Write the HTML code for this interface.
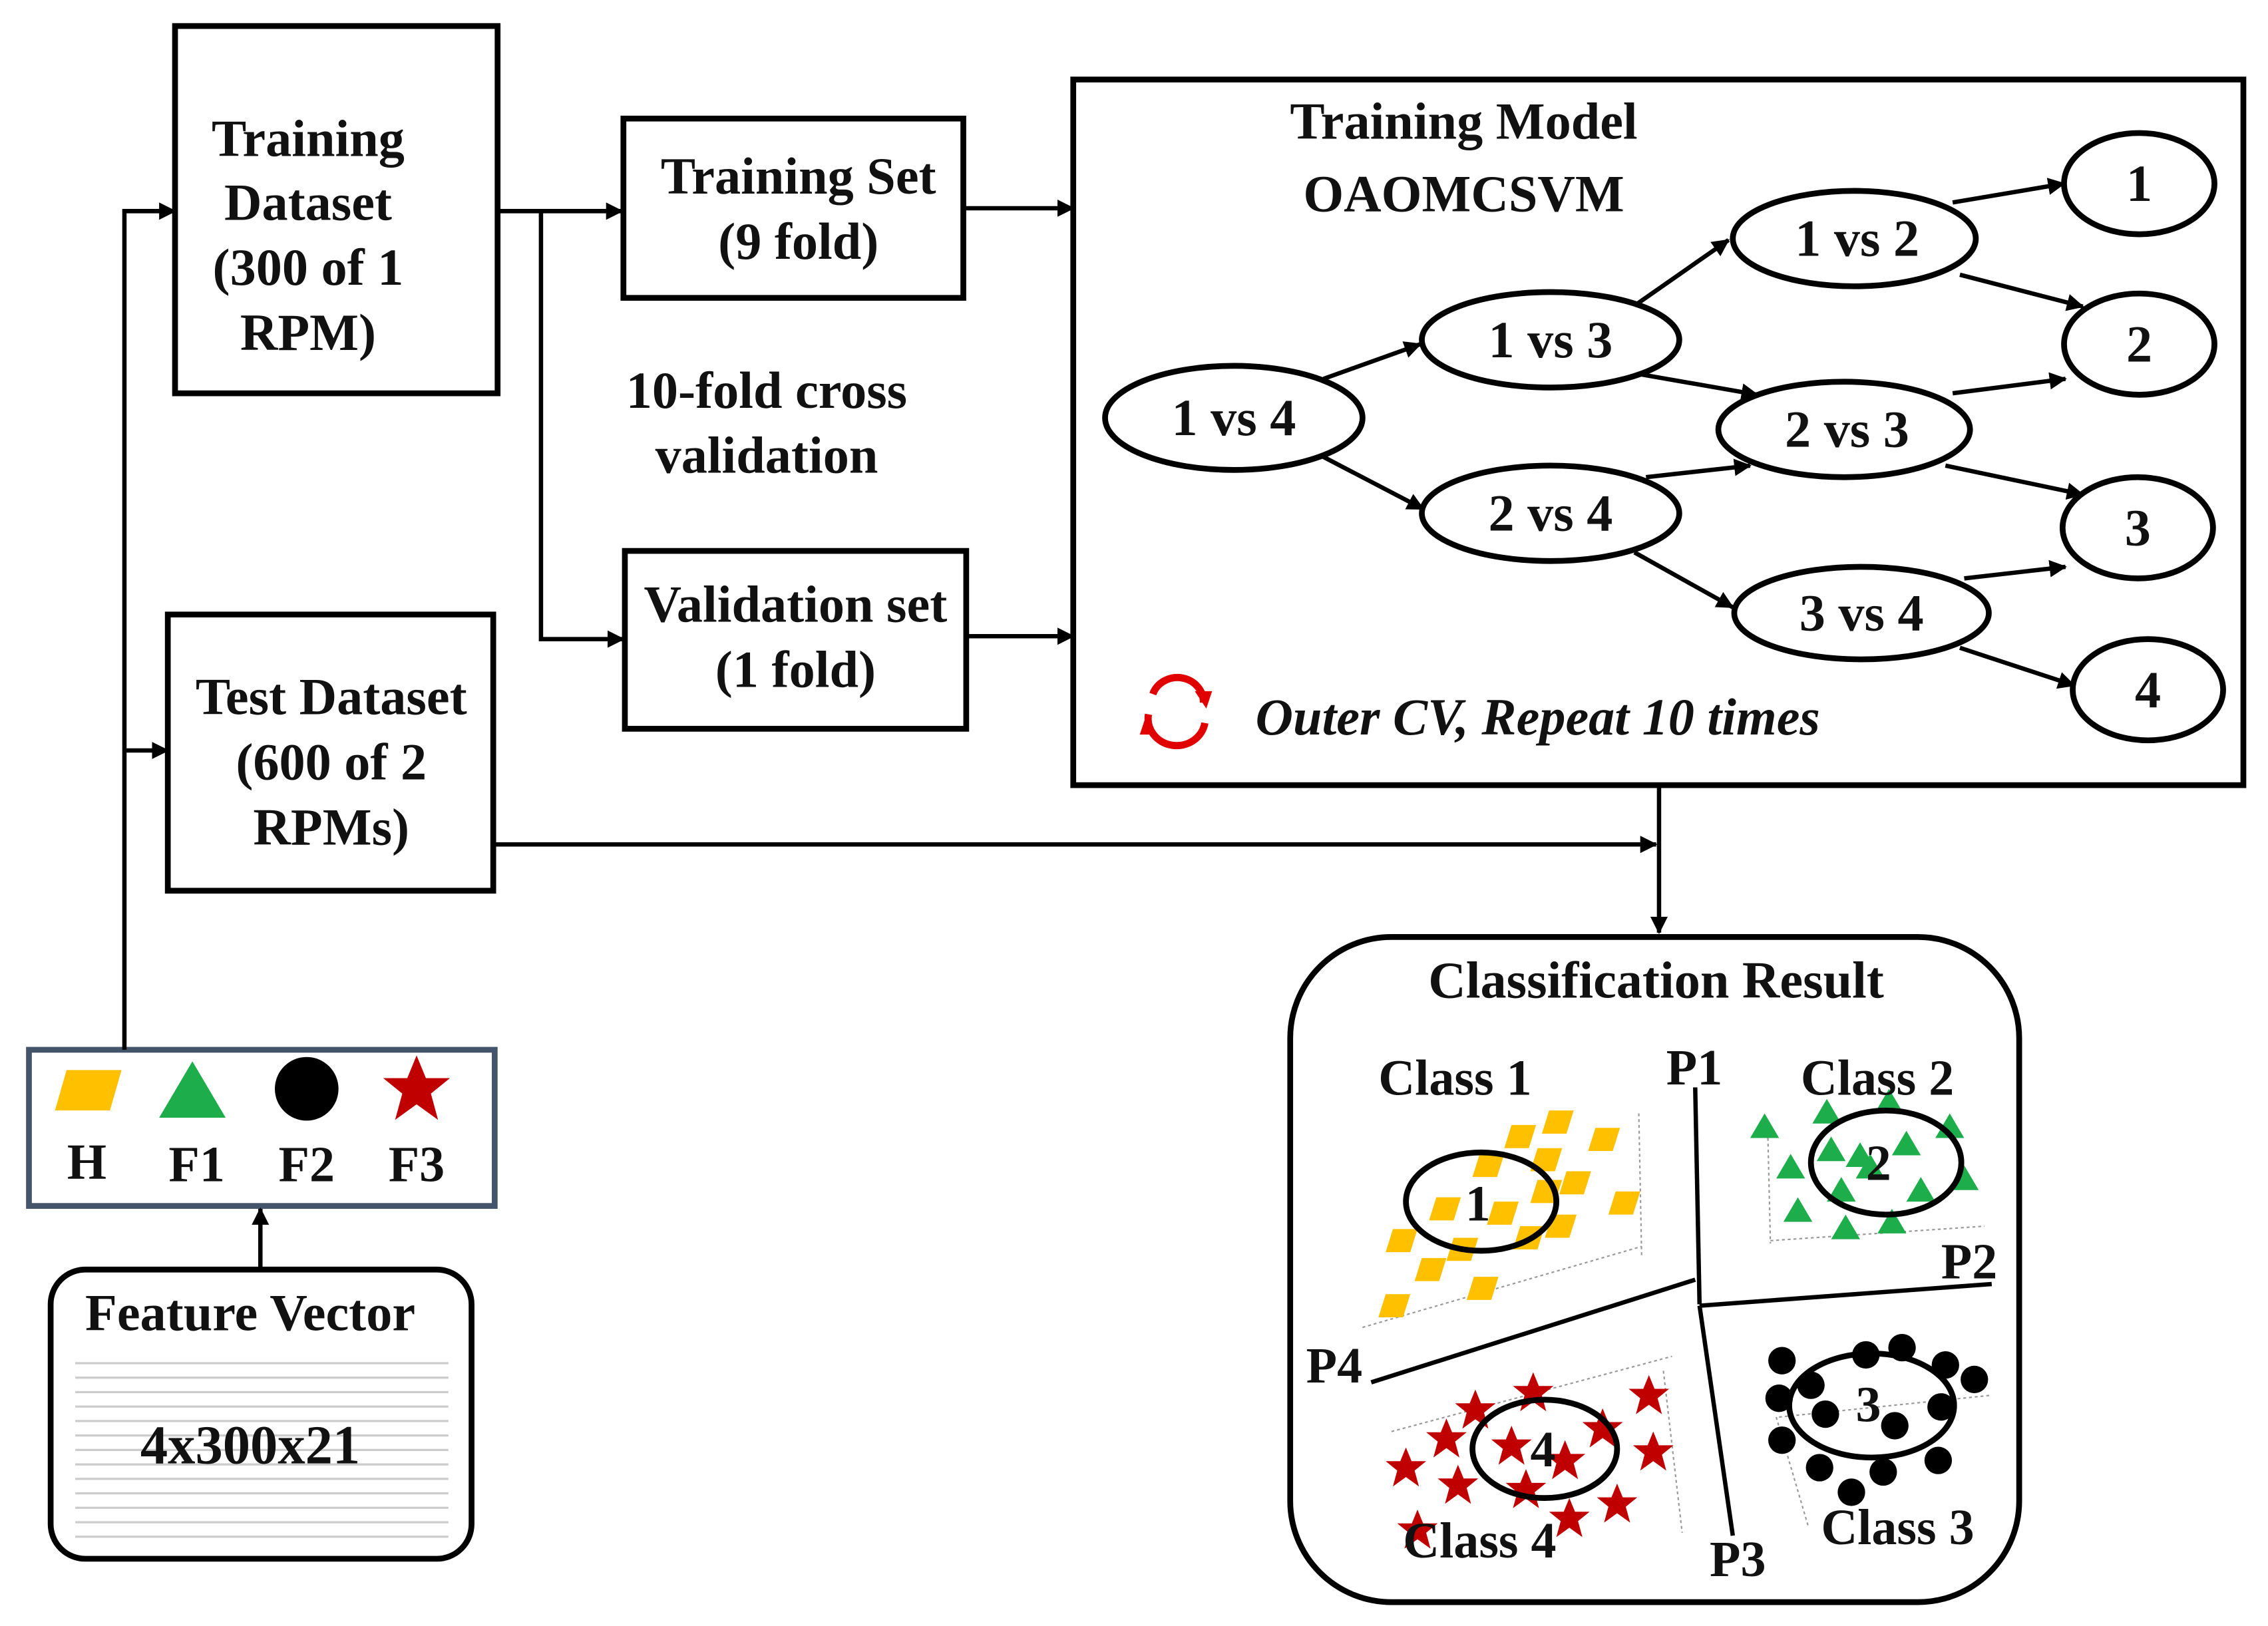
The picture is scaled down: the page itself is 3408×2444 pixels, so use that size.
<!DOCTYPE html>
<html><head><meta charset="utf-8"><style>
html,body{margin:0;padding:0;background:#fff;}
svg{display:block;}
text{font-family:"Liberation Serif",serif;font-weight:bold;fill:#111;}
</style></head><body>
<svg width="3408" height="2444" viewBox="0 0 1568 1124.5" xmlns="http://www.w3.org/2000/svg">
<defs>
<marker id="ar" markerWidth="12" markerHeight="12" refX="11" refY="6" orient="auto" markerUnits="userSpaceOnUse"><path d="M0,0 L12,6 L0,12 z" fill="#000"/></marker>
<path id="par" d="M5,0 L22,0 L17,16 L0,16 z" fill="#FFC000"/>
<path id="tri" d="M0,17 L10,0 L20,17 z" fill="#1DAE4B"/>
<path id="st" d="M0,-14 L3.9,-4.5 L14,-4.5 L6,2 L9,13 L0,6.5 L-9,13 L-6,2 L-14,-4.5 L-3.9,-4.5 z" fill="#C00000"/>
</defs>
<g fill="none" stroke="#000" stroke-width="4">
<rect x="121" y="18" width="223" height="254"/>
<rect x="116" y="425" width="225" height="191"/>
<rect x="431" y="82" width="235" height="124"/>
<rect x="432" y="381" width="236" height="123"/>
<rect x="742" y="55" width="809" height="488"/>
<rect x="35" y="878" width="291" height="200" rx="24"/>
<rect x="892" y="648" width="504" height="460" rx="70"/>
</g>
<rect x="20" y="726" width="322" height="108" fill="none" stroke="#44546A" stroke-width="4"/>
<g stroke="#000" stroke-width="3" fill="none">
<line x1="344" y1="146" x2="430" y2="146" marker-end="url(#ar)"/>
<polyline points="374,146 374,442 431,442" marker-end="url(#ar)"/>
<line x1="666" y1="144" x2="742" y2="144" marker-end="url(#ar)"/>
<line x1="668" y1="440" x2="742" y2="440" marker-end="url(#ar)"/>
<polyline points="86,726 86,146 121,146" marker-end="url(#ar)"/>
<line x1="86" y1="519" x2="116" y2="519" marker-end="url(#ar)"/>
<polyline points="341,584 1145,584" marker-end="url(#ar)"/>
<line x1="1147" y1="543" x2="1147" y2="645" marker-end="url(#ar)"/>
<line x1="180" y1="878" x2="180" y2="836" marker-end="url(#ar)"/>
<line x1="915" y1="262" x2="982" y2="238" marker-end="url(#ar)"/>
<line x1="915" y1="316" x2="984" y2="352" marker-end="url(#ar)"/>
<line x1="1132" y1="210" x2="1195" y2="166" marker-end="url(#ar)"/>
<line x1="1135" y1="259" x2="1215" y2="273" marker-end="url(#ar)"/>
<line x1="1138" y1="330" x2="1210" y2="322" marker-end="url(#ar)"/>
<line x1="1130" y1="382" x2="1198" y2="420" marker-end="url(#ar)"/>
<line x1="1350" y1="140" x2="1427" y2="127" marker-end="url(#ar)"/>
<line x1="1355" y1="190" x2="1440" y2="212" marker-end="url(#ar)"/>
<line x1="1350" y1="272" x2="1428" y2="262" marker-end="url(#ar)"/>
<line x1="1345" y1="322" x2="1440" y2="342" marker-end="url(#ar)"/>
<line x1="1358" y1="400" x2="1428" y2="392" marker-end="url(#ar)"/>
<line x1="1355" y1="448" x2="1434" y2="474" marker-end="url(#ar)"/>
</g>
<g fill="#fff" stroke="#000" stroke-width="4">
<ellipse cx="853" cy="289" rx="89" ry="36"/>
<ellipse cx="1072" cy="235" rx="89" ry="33"/>
<ellipse cx="1072" cy="355" rx="89" ry="33"/>
<ellipse cx="1282" cy="165" rx="84" ry="33"/>
<ellipse cx="1275" cy="297" rx="87" ry="33"/>
<ellipse cx="1287" cy="424" rx="88" ry="32"/>
<ellipse cx="1479" cy="127" rx="52" ry="35"/>
<ellipse cx="1479" cy="238" rx="52" ry="35"/>
<ellipse cx="1478" cy="365" rx="52" ry="35"/>
<ellipse cx="1485" cy="477" rx="52" ry="35"/>
</g>
<g font-size="36" text-anchor="middle">
<text x="213" y="108">Training</text>
<text x="213" y="152">Dataset</text>
<text x="213" y="197">(300 of 1</text>
<text x="213" y="242">RPM)</text>
<text x="229" y="494">Test Dataset</text>
<text x="229" y="539">(600 of 2</text>
<text x="229" y="584">RPMs)</text>
<text x="552" y="134">Training Set</text>
<text x="552" y="179">(9 fold)</text>
<text x="550" y="430">Validation set</text>
<text x="550" y="475">(1 fold)</text>
<text x="530" y="282">10-fold cross</text>
<text x="530" y="327">validation</text>
<text x="1012" y="96">Training Model</text>
<text x="1012" y="146">OAOMCSVM</text>
<text x="853" y="301">1 vs 4</text>
<text x="1072" y="247">1 vs 3</text>
<text x="1072" y="367">2 vs 4</text>
<text x="1284" y="177">1 vs 2</text>
<text x="1277" y="309">2 vs 3</text>
<text x="1287" y="436">3 vs 4</text>
<text x="1479" y="139">1</text>
<text x="1479" y="250">2</text>
<text x="1478" y="377">3</text>
<text x="1485" y="489">4</text>
<text x="1145" y="690">Classification Result</text>
<text x="173" y="920">Feature Vector</text>
</g>
<text x="868" y="508" font-size="36" font-style="italic">Outer CV, Repeat 10 times</text>
<g fill="none" stroke="#E00000" stroke-width="5">
<path d="M797,480 A18,17 0 0 1 832,486"/>
<path d="M833,500 A18,17 0 0 1 794,494"/>
</g>
<path d="M826,478 L838,478 L834,490 z" fill="#E00000"/>
<path d="M800,508 L788,508 L792,496 z" fill="#E00000"/>
<path d="M46,740 L84,740 L76,768 L38,768 z" fill="#FFC000"/>
<path d="M110,773 L133,734 L156,773 z" fill="#1DAE4B"/>
<circle cx="212" cy="753" r="22" fill="#000"/>
<g transform="translate(288,753) scale(1.65)"><use href="#st"/></g>
<g font-size="35" text-anchor="middle">
<text x="60" y="815">H</text><text x="136" y="817">F1</text><text x="212" y="817">F2</text><text x="288" y="817">F3</text>
</g>
<g fill="#ccc">
<rect x="52" y="942" width="258" height="1.5"/><rect x="52" y="952" width="258" height="1.5"/><rect x="52" y="962" width="258" height="1.5"/><rect x="52" y="972" width="258" height="1.5"/><rect x="52" y="982" width="258" height="1.5"/><rect x="52" y="992" width="258" height="1.5"/><rect x="52" y="1002" width="258" height="1.5"/><rect x="52" y="1012" width="258" height="1.5"/><rect x="52" y="1022" width="258" height="1.5"/><rect x="52" y="1032" width="258" height="1.5"/><rect x="52" y="1042" width="258" height="1.5"/><rect x="52" y="1052" width="258" height="1.5"/><rect x="52" y="1062" width="258" height="1.5"/>
</g>
<text x="173" y="1012" font-size="38" text-anchor="middle">4x300x21</text>
<g stroke="#999" stroke-width="1" stroke-dasharray="2,2" fill="none">
<line x1="942" y1="918" x2="1135" y2="862"/><line x1="1133" y1="770" x2="1135" y2="870"/>
<line x1="1222" y1="775" x2="1224" y2="860"/><line x1="1224" y1="858" x2="1372" y2="848"/>
<line x1="962" y1="990" x2="1156" y2="938"/><line x1="1150" y1="948" x2="1163" y2="1060"/>
<line x1="1230" y1="980" x2="1376" y2="965"/><line x1="1228" y1="980" x2="1250" y2="1055"/>
</g>
<g stroke="#000" stroke-width="3" fill="none">
<line x1="1172" y1="752" x2="1175" y2="902"/>
<line x1="1175" y1="903" x2="1377" y2="888"/>
<line x1="948" y1="956" x2="1172" y2="885"/>
<line x1="1175" y1="903" x2="1198" y2="1062"/>
</g>
<g>
<use href="#par" x="1066" y="768"/><use href="#par" x="1098" y="780"/><use href="#par" x="1018" y="798"/><use href="#par" x="1058" y="794"/><use href="#par" x="1040" y="778"/>
<use href="#par" x="1058" y="816"/><use href="#par" x="1112" y="824"/><use href="#par" x="988" y="828"/><use href="#par" x="1028" y="831"/><use href="#par" x="1068" y="840"/>
<use href="#par" x="958" y="850"/><use href="#par" x="1000" y="856"/><use href="#par" x="1046" y="848"/><use href="#par" x="978" y="870"/><use href="#par" x="1014" y="883"/><use href="#par" x="953" y="895"/><use href="#par" x="1078" y="810"/>
</g>
<g>
<use href="#tri" x="1210" y="770"/><use href="#tri" x="1253" y="760"/><use href="#tri" x="1296" y="753"/><use href="#tri" x="1338" y="770"/>
<use href="#tri" x="1228" y="798"/><use href="#tri" x="1256" y="786"/><use href="#tri" x="1276" y="790"/><use href="#tri" x="1308" y="782"/>
<use href="#tri" x="1348" y="806"/><use href="#tri" x="1318" y="814"/><use href="#tri" x="1263" y="814"/><use href="#tri" x="1233" y="828"/>
<use href="#tri" x="1266" y="840"/><use href="#tri" x="1298" y="836"/><use href="#tri" x="1283" y="798"/>
</g>
<g fill="#000">
<circle cx="1232" cy="941" r="9.5"/><circle cx="1290" cy="937" r="9.5"/><circle cx="1315" cy="932" r="9.5"/><circle cx="1345" cy="944" r="9.5"/>
<circle cx="1252" cy="958" r="9.5"/><circle cx="1365" cy="954" r="9.5"/><circle cx="1230" cy="967" r="9.5"/><circle cx="1342" cy="973" r="9.5"/>
<circle cx="1262" cy="978" r="9.5"/><circle cx="1310" cy="986" r="9.5"/><circle cx="1232" cy="996" r="9.5"/><circle cx="1340" cy="1010" r="9.5"/>
<circle cx="1258" cy="1015" r="9.5"/><circle cx="1302" cy="1018" r="9.5"/><circle cx="1280" cy="1032" r="9.5"/>
</g>
<g>
<use href="#st" x="1020" y="975"/><use href="#st" x="1060" y="963"/><use href="#st" x="1140" y="965"/><use href="#st" x="1108" y="988"/>
<use href="#st" x="1000" y="995"/><use href="#st" x="972" y="1015"/><use href="#st" x="1045" y="1000"/><use href="#st" x="1082" y="1010"/>
<use href="#st" x="1143" y="1004"/><use href="#st" x="1008" y="1027"/><use href="#st" x="1055" y="1030"/><use href="#st" x="1118" y="1040"/>
<use href="#st" x="1085" y="1050"/><use href="#st" x="980" y="1058"/>
</g>
<g fill="none" stroke="#000" stroke-width="4">
<ellipse cx="1024" cy="831" rx="52" ry="34"/>
<ellipse cx="1304" cy="804" rx="52" ry="36"/>
<ellipse cx="1294" cy="972" rx="57" ry="36"/>
<ellipse cx="1068" cy="1002" rx="50" ry="34"/>
</g>
<g font-size="35">
<text x="953" y="757">Class 1</text>
<text x="1245" y="757">Class 2</text>
<text x="1259" y="1068">Class 3</text>
<text x="970" y="1077">Class 4</text>
<text x="1152" y="750">P1</text>
<text x="1342" y="884">P2</text>
<text x="1182" y="1090">P3</text>
<text x="903" y="956">P4</text>
<text x="1013" y="844">1</text>
<text x="1290" y="816">2</text>
<text x="1283" y="983">3</text>
<text x="1058" y="1014">4</text>
</g>
</svg>
</body></html>
